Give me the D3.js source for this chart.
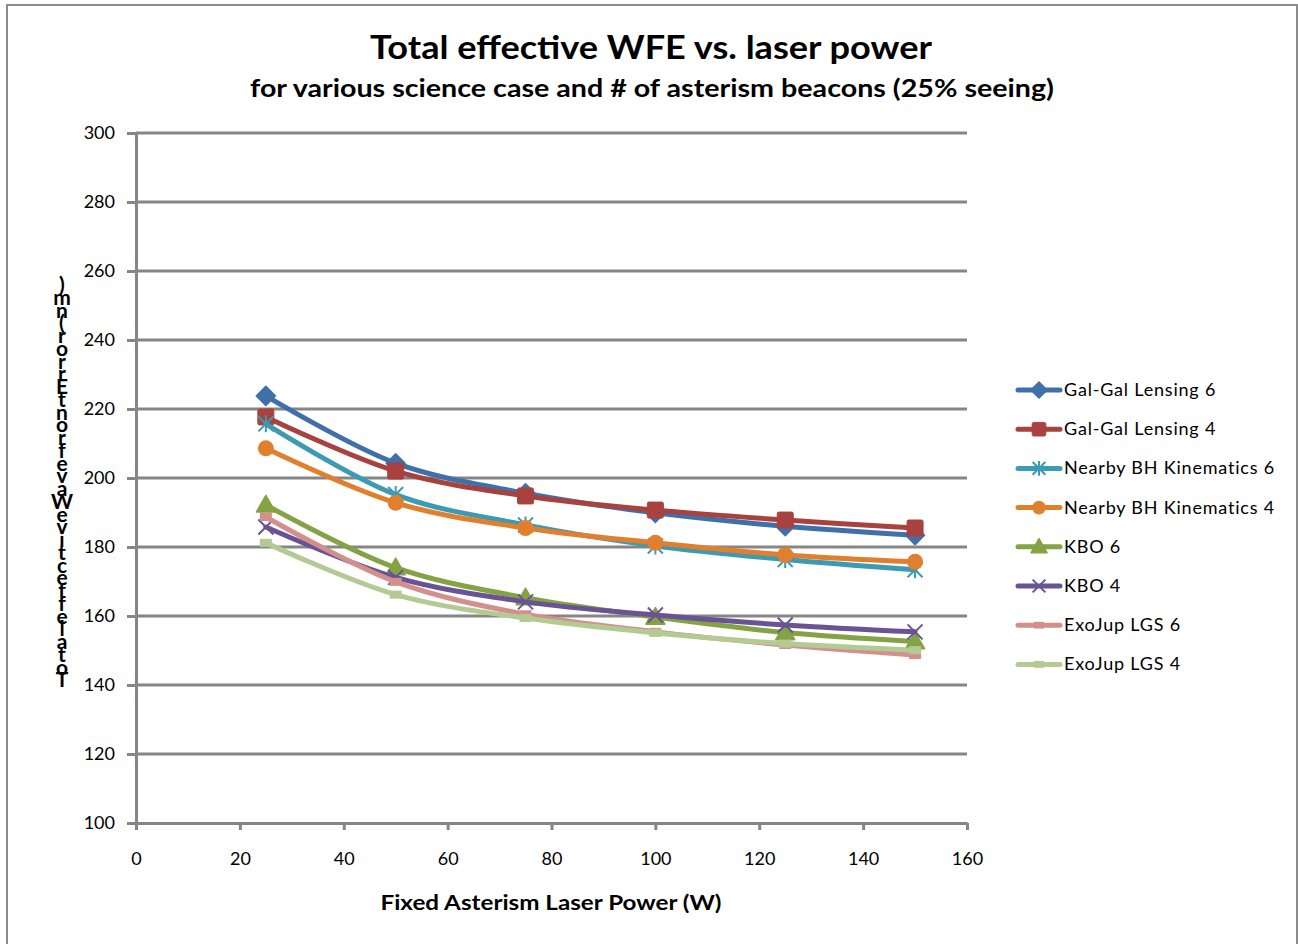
<!DOCTYPE html>
<html>
<head>
<meta charset="utf-8">
<script src="https://cdn.jsdelivr.net/npm/d3@7/dist/d3.min.js"></script>
<style>
html,body{margin:0;padding:0;background:#fff;}
svg{display:block;}
text{font-family:Lato,"Open Sans","Liberation Sans",sans-serif;fill:#000;}
</style>
</head>
<body>
<svg id="chart" width="1298" height="944"></svg>
<script>
const xValues = [25, 50, 75, 100, 125, 150];
const seriesNames = ["Gal-Gal Lensing 6","Gal-Gal Lensing 4","Nearby BH Kinematics 6","Nearby BH Kinematics 4","KBO 6","KBO 4","ExoJup LGS 6","ExoJup LGS 4"];
const galGal6 = [223.8, 204.3, 195.6, 189.9, 186.0, 183.4];
const galGal4 = [217.7, 202.0, 194.8, 190.7, 187.8, 185.5];
const nearbyBH6 = [215.7, 195.2, 186.4, 180.3, 176.4, 173.4];
const nearbyBH4 = [208.6, 192.8, 185.5, 181.2, 177.7, 175.7];
const kbo6 = [192.2, 174.0, 165.3, 159.7, 155.2, 152.6];
const kbo4 = [185.8, 171.2, 164.1, 160.3, 157.4, 155.4];
const exoJup6 = [188.7, 169.9, 160.5, 155.4, 151.6, 148.7];
const exoJup4 = [181.2, 166.2, 159.4, 155.1, 152.0, 150.1];
const seriesValues = [galGal6, galGal4, nearbyBH6, nearbyBH4, kbo6, kbo4, exoJup6, exoJup4];
const xTicks = [0, 20, 40, 60, 80, 100, 120, 140, 160];
const yTicks = [100, 120, 140, 160, 180, 200, 220, 240, 260, 280, 300];
const titleText = "Total effective WFE vs. laser power";
const subtitleText = "for various science case and # of asterism beacons (25% seeing)";
const xAxisTitle = "Fixed Asterism Laser Power (W)";
const yAxisTitle = "Total effective Wavefront Error (nm)";

const colors = ["#4070AA","#A8423F","#3D9AB3","#E0802F","#83A344","#6A5394","#D48F8C","#B3CB93"];
const markers = ["diamond","square","asterisk","circle","triangle","x","rect","rect"];

const svg = d3.select("#chart");
const gridColor = "#868686";
const fontStack = "Lato, 'Open Sans', sans-serif";

// outer border
svg.append("rect").attr("x",7).attr("y",5).attr("width",1290).attr("height",950)
  .attr("fill","none").attr("stroke","#8c8c8c").attr("stroke-width",2);

const plot = {left:136, right:967, top:133, bottom:823};
const x = d3.scaleLinear().domain([0,160]).range([plot.left, plot.right]);
const y = d3.scaleLinear().domain([100,300]).range([plot.bottom, plot.top]);

// gridlines
svg.append("g").selectAll("line").data(yTicks.filter(d=>d!==100)).join("line")
  .attr("x1",plot.left).attr("x2",plot.right)
  .attr("y1",d=>y(d)).attr("y2",d=>y(d))
  .attr("stroke",gridColor).attr("stroke-width",3);

// y axis
const yAxis = d3.axisLeft(y).tickValues(yTicks).tickSize(9).tickPadding(12).tickSizeOuter(0);
const gy = svg.append("g").attr("transform",`translate(${plot.left},0)`).call(yAxis);
gy.select(".domain").attr("stroke",gridColor).attr("stroke-width",3);
gy.selectAll(".tick line").attr("stroke",gridColor).attr("stroke-width",3);
gy.selectAll(".tick text").attr("font-size",18).attr("font-family",fontStack).attr("fill","#000");

// x axis
const xAxis = d3.axisBottom(x).tickValues(xTicks).tickSize(7).tickPadding(22).tickSizeOuter(0);
const gx = svg.append("g").attr("transform",`translate(0,${plot.bottom})`).call(xAxis);
gx.select(".domain").attr("stroke",gridColor).attr("stroke-width",3);
gx.selectAll(".tick line").attr("stroke",gridColor).attr("stroke-width",3);
gx.selectAll(".tick text").attr("font-size",18).attr("font-family",fontStack).attr("fill","#000");

// series lines
const line = d3.line().x(d=>x(d[0])).y(d=>y(d[1])).curve(d3.curveCatmullRom.alpha(0.5));

function drawMarker(g, type, cx, cy, color, scale) {
  const s = scale || 1;
  if (type === "diamond") {
    const r = 9.5*s;
    g.append("path").attr("d",`M${cx},${cy-r}L${cx+r},${cy}L${cx},${cy+r}L${cx-r},${cy}Z`)
      .attr("fill",color).attr("stroke",color).attr("stroke-width",1.5).attr("stroke-linejoin","round");
  } else if (type === "square") {
    const r = 8*s;
    g.append("rect").attr("x",cx-r).attr("y",cy-r).attr("width",2*r).attr("height",2*r)
      .attr("fill",color).attr("stroke",color).attr("stroke-width",1).attr("rx",1.5);
  } else if (type === "circle") {
    g.append("circle").attr("cx",cx).attr("cy",cy).attr("r",8*s).attr("fill",color);
  } else if (type === "triangle") {
    const r = 9.5*s;
    g.append("path").attr("d",`M${cx},${cy-r}L${cx+r},${cy+r*0.75}L${cx-r},${cy+r*0.75}Z`)
      .attr("fill",color).attr("stroke",color).attr("stroke-width",1.5).attr("stroke-linejoin","round");
  } else if (type === "x") {
    const r = 7.5*s;
    g.append("path").attr("d",`M${cx-r},${cy-r}L${cx+r},${cy+r}M${cx-r},${cy+r}L${cx+r},${cy-r}`)
      .attr("stroke",color).attr("stroke-width",2).attr("fill","none");
  } else if (type === "asterisk") {
    const r = 7.5*s;
    g.append("path").attr("d",`M${cx-r},${cy-r}L${cx+r},${cy+r}M${cx-r},${cy+r}L${cx+r},${cy-r}M${cx},${cy-r-1}L${cx},${cy+r+1}`)
      .attr("stroke",color).attr("stroke-width",2).attr("fill","none");
  } else if (type === "rect") {
    g.append("rect").attr("x",cx-6*s).attr("y",cy-4*s).attr("width",12*s).attr("height",8*s)
      .attr("fill",color);
  }
}

const series = seriesNames.map((name,i)=>({name, color:colors[i], marker:markers[i],
  points: xValues.map((xv,j)=>[xv, seriesValues[i][j]])}));

series.forEach(s=>{
  const g = svg.append("g");
  g.append("path").datum(s.points).attr("d",line)
    .attr("fill","none").attr("stroke",s.color).attr("stroke-width",5)
    .attr("stroke-linejoin","round").attr("stroke-linecap","round");
  s.points.forEach(p=>drawMarker(g, s.marker, x(p[0]), y(p[1]), s.color, 1));
});

// legend
const legend = svg.append("g");
series.forEach((s,i)=>{
  const ly = 390 + i*39.2;
  legend.append("line").attr("x1",1018).attr("x2",1060).attr("y1",ly).attr("y2",ly)
    .attr("stroke",s.color).attr("stroke-width",5).attr("stroke-linecap","round");
  drawMarker(legend, s.marker, 1039, ly, s.color, 0.85);
  legend.append("text").attr("x",1064).attr("y",ly+6).attr("font-size",18)
    .attr("letter-spacing","0.8px").text(s.name);
});

// titles
svg.append("text").attr("x",651).attr("y",59).attr("text-anchor","middle")
  .attr("font-size",33).attr("font-weight","bold")
  .attr("textLength",562).attr("lengthAdjust","spacingAndGlyphs").text(titleText);
svg.append("text").attr("x",652).attr("y",97).attr("text-anchor","middle")
  .attr("font-size",24).attr("font-weight","bold")
  .attr("textLength",804).attr("lengthAdjust","spacingAndGlyphs").text(subtitleText);
svg.append("text").attr("x",551).attr("y",910).attr("text-anchor","middle")
  .attr("font-size",21).attr("font-weight","bold")
  .attr("textLength",341).attr("lengthAdjust","spacingAndGlyphs").text(xAxisTitle);

// y axis title: stacked upright characters (bottom-to-top reading), as drawn in the reference
const chars = yAxisTitle.replace(/ /g,"").split("").reverse();
const yt = svg.append("text").attr("font-size",21).attr("font-weight","bold").attr("text-anchor","middle");
chars.forEach((c,i)=>{
  yt.append("tspan").attr("x",62).attr("y",292 + i*12.75).text(c);
});
</script>
</body>
</html>
